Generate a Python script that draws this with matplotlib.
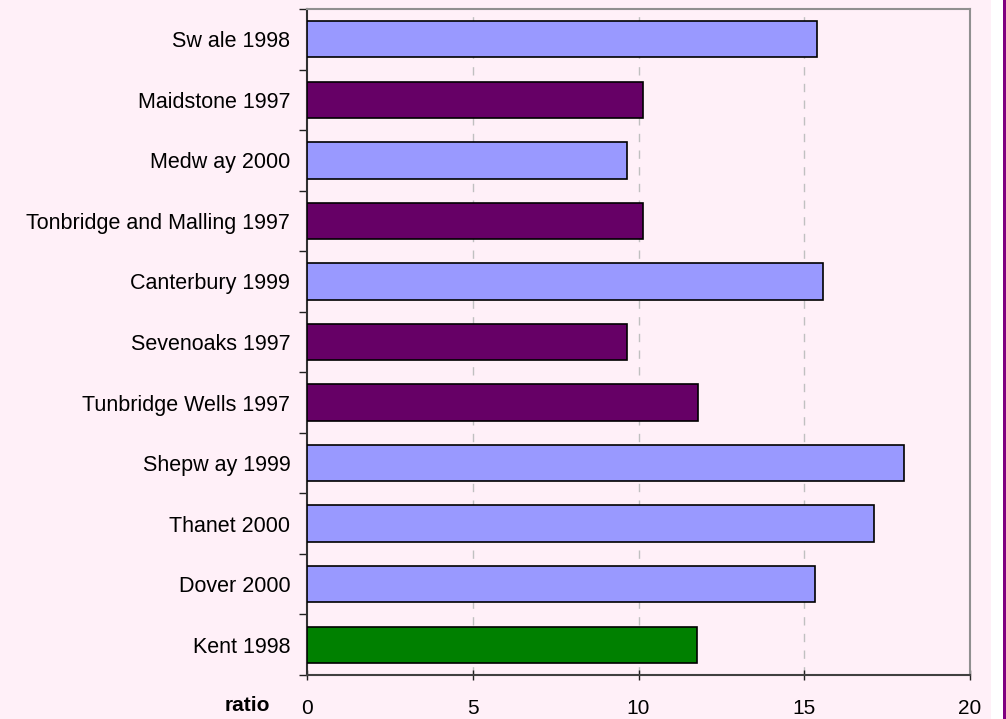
import numpy as np
import matplotlib
matplotlib.use("Agg")
import matplotlib.pyplot as plt
from matplotlib.patches import Rectangle

plt.rcParams['font.family'] = ['Liberation Sans', 'DejaVu Sans']

# data (top to bottom)
areas = ["Sw ale 1998", "Maidstone 1997", "Medw ay 2000", "Tonbridge and Malling 1997",
         "Canterbury 1999", "Sevenoaks 1997", "Tunbridge Wells 1997", "Shepw ay 1999",
         "Thanet 2000", "Dover 2000", "Kent 1998"]
ratios = [15.37, 10.15, 9.64, 10.15, 15.57, 9.64, 11.80, 18.02, 17.10, 15.32, 11.75]
groups = ["blue", "purple", "blue", "purple", "blue", "purple", "purple",
          "blue", "blue", "blue", "green"]
xticks = [0, 5, 10, 15, 20]

palette = {"blue": "#9999FF", "purple": "#660066", "green": "#008000"}
bg = "#FFF0F8"

fig = plt.figure(figsize=(10.06, 7.19), dpi=100, facecolor=bg)
# white strip and purple border on the right edge
fig.patches.append(Rectangle((0.985, 0), 0.015, 1, transform=fig.transFigure,
                             facecolor="white", edgecolor="none", zorder=0))
fig.patches.append(Rectangle((0.9975, 0), 0.0025, 1, transform=fig.transFigure,
                             facecolor="#800080", edgecolor="none", zorder=1))

ax = fig.add_axes([0.3052, 0.0612, 0.6590, 0.9263])
ax.set_facecolor(bg)

y = np.arange(len(areas))
ax.barh(y, ratios, height=0.6, color=[palette[g] for g in groups],
        edgecolor="black", linewidth=1.2, zorder=3)

ax.set_xlim(0, 20)
ax.set_ylim(len(areas) - 0.5, -0.5)
ax.set_xticks(xticks)
ax.set_xticklabels([str(t) for t in xticks], fontsize=15)
ax.set_yticks(y)
ax.set_yticklabels(areas, fontsize=15.5)
ax.set_yticks(np.arange(len(areas) + 1) - 0.5, minor=True)

ax.tick_params(axis="y", which="major", length=0, pad=12)
ax.tick_params(axis="y", which="minor", length=6, width=1, color="#202020", direction="out")
ax.tick_params(axis="x", length=7, width=1, color="#202020", direction="inout", pad=14)

for x in xticks[1:-1]:
    ax.axvline(x, color="#C0C0C0", linestyle=(0, (6, 6)), linewidth=1, zorder=1)

ax.spines["left"].set_color("#303030")
ax.spines["bottom"].set_color("#404040")
ax.spines["top"].set_color("#909090")
ax.spines["right"].set_color("#909090")
for s in ax.spines.values():
    s.set_linewidth(1.5)

fig.text(0.2455, 0.011, "ratio", fontsize=15, fontweight="bold", ha="center", va="baseline")

plt.savefig("out.png", dpi=100, facecolor=bg)
plt.close()
